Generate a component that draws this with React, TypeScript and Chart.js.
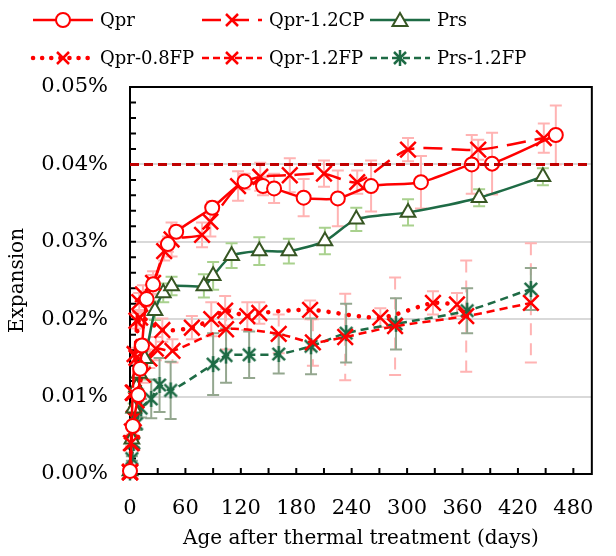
import { useEffect, useRef } from "react"
import { Chart, registerables } from "chart.js"

Chart.register(...registerables)

// expansion values are in percent (0.04 means 0.04%)
const qprDays = [0, 3, 9, 11, 13, 18, 25, 41, 50, 89, 124, 144, 156, 188, 225, 261, 315, 370, 392, 461]
const qprValues = [0.0004, 0.0062, 0.0102, 0.0136, 0.0166, 0.0226, 0.0245, 0.0297, 0.0313, 0.0344, 0.0378, 0.0372, 0.0369, 0.0357, 0.0356, 0.0372, 0.0377, 0.04, 0.0401, 0.0438]
const qprErrors = [0.0002, 0.0005, 0.0008, 0.0008, 0.0008, 0.001, 0.0012, 0.001, 0.0008, 0.0008, 0.001, 0.0012, 0.0019, 0.0024, 0.0036, 0.0033, 0.0034, 0.0038, 0.004, 0.0038]

const cpDays = [0, 1, 3, 5, 7, 10, 14, 25, 37, 45, 78, 87, 117, 141, 173, 210, 246, 301, 377, 448]
const cpValues = [0.0003, 0.004, 0.0105, 0.0155, 0.0198, 0.0222, 0.0232, 0.0247, 0.0288, 0.0303, 0.0309, 0.0326, 0.0372, 0.0384, 0.0386, 0.0388, 0.0377, 0.0419, 0.0419, 0.0434]
const cpErrors = [0.0002, 0.0004, 0.0006, 0.0008, 0.001, 0.0012, 0.0012, 0.0015, 0.0012, 0.0022, 0.0016, 0.0019, 0.0019, 0.0018, 0.0022, 0.0017, 0.0015, 0.0015, 0.0013, 0.0019]

const prsDays = [0, 2, 4, 7, 10, 16, 27, 36, 45, 80, 90, 110, 140, 172, 211, 245, 301, 378, 447]
const prsValues = [0.0004, 0.0045, 0.0085, 0.0112, 0.013, 0.0149, 0.0211, 0.0234, 0.0243, 0.0243, 0.0256, 0.0282, 0.0288, 0.0288, 0.0301, 0.0329, 0.0338, 0.0357, 0.0384]
const prsErrors = [0.0002, 0.0004, 0.0006, 0.0008, 0.0008, 0.001, 0.0012, 0.0012, 0.0012, 0.0015, 0.0018, 0.0016, 0.0018, 0.0016, 0.0017, 0.0015, 0.0017, 0.0011, 0.0011]

const fp08Days = [0, 2, 4, 7, 11, 35, 67, 88, 103, 127, 140, 195, 271, 328, 354]
const fp08Values = [0.0002, 0.0055, 0.0105, 0.015, 0.0202, 0.0186, 0.0189, 0.02, 0.0211, 0.0204, 0.0208, 0.0212, 0.0202, 0.0221, 0.0219]
const fp08Errors = [0.0002, 0.0004, 0.0006, 0.0008, 0.001, 0.0015, 0.0015, 0.0022, 0.0019, 0.0018, 0.0014, 0.0012, 0.0012, 0.0015, 0.0015]

const fp12Days = [0, 2, 4, 7, 14, 21, 28, 46, 104, 161, 198, 233, 287, 364, 434]
const fp12Values = [0.0002, 0.004, 0.0072, 0.0095, 0.0128, 0.0149, 0.0162, 0.0159, 0.0187, 0.0181, 0.017, 0.0177, 0.0191, 0.0204, 0.0221]
const fp12Errors = [0.0002, 0.0004, 0.0006, 0.0008, 0.001, 0.0012, 0.0015, 0.0015, 0.0026, 0.0025, 0.003, 0.0056, 0.0063, 0.0072, 0.0077]

const prsFpDays = [0, 2, 4, 7, 12, 23, 32, 44, 90, 104, 129, 161, 196, 234, 288, 365, 434]
const prsFpValues = [0.0002, 0.002, 0.004, 0.0065, 0.0085, 0.0097, 0.0115, 0.0108, 0.0142, 0.0153, 0.0154, 0.0155, 0.0165, 0.0182, 0.0194, 0.0211, 0.0239]
const prsFpErrors = [0.0001, 0.0003, 0.0005, 0.0008, 0.0012, 0.0025, 0.0035, 0.0037, 0.004, 0.0035, 0.003, 0.0025, 0.0036, 0.0038, 0.0033, 0.0029, 0.0027]

const limitValue = 0.04
const xTickValues = [0, 60, 120, 180, 240, 300, 360, 420, 480]
const yTickValues = [0, 0.01, 0.02, 0.03, 0.04, 0.05]

const FONT = "'DejaVu Serif', serif"
const RED = "#ff0000"
const GREEN = "#1e6b45"
const OLIVE = "#375623"

const pts = (xs: number[], ys: number[]) => xs.map((x, i) => ({ x, y: ys[i] }))

function makeAsterisk(color: string, r: number) {
  const c = document.createElement("canvas")
  c.width = c.height = r * 2 + 4
  const g = c.getContext("2d")!
  const m = r + 2
  const d = r * 0.78
  g.strokeStyle = color
  g.lineWidth = 2.5
  g.beginPath()
  g.moveTo(m - d, m - d)
  g.lineTo(m + d, m + d)
  g.moveTo(m + d, m - d)
  g.lineTo(m - d, m + d)
  g.moveTo(m, m - r)
  g.lineTo(m, m + r)
  g.stroke()
  return c
}

const framePlugin = {
  id: "frameAndErrors",
  beforeDatasetsDraw(chart: any) {
    const { ctx, chartArea: a, scales } = chart
    const x = scales.x
    const y = scales.y
    ctx.save()
    // error bars
    chart.data.datasets.forEach((ds: any) => {
      if (!ds.errors) return
      ds.data.forEach((p: any, j: number) => {
        const e = ds.errors[j]
        if (!e) return
        const px = x.getPixelForValue(p.x)
        const top = y.getPixelForValue(p.y + e)
        const bot = y.getPixelForValue(Math.max(0, p.y - e))
        ctx.strokeStyle = ds.errorColor
        ctx.lineWidth = 2
        ctx.setLineDash(ds.errorDash || [])
        ctx.beginPath()
        ctx.moveTo(px, top)
        ctx.lineTo(px, bot)
        ctx.stroke()
        ctx.setLineDash([])
        ctx.beginPath()
        ctx.moveTo(px - 6, top)
        ctx.lineTo(px + 6, top)
        ctx.moveTo(px - 6, bot)
        ctx.lineTo(px + 6, bot)
        ctx.stroke()
      })
    })
    // frame with inward minor ticks
    ctx.strokeStyle = "#000"
    ctx.lineWidth = 2
    ctx.strokeRect(a.left, a.top, a.right - a.left, a.bottom - a.top)
    ctx.beginPath()
    for (let d = 30; d < 500; d += 30) {
      const px = x.getPixelForValue(d)
      ctx.moveTo(px, a.bottom)
      ctx.lineTo(px, a.bottom - 6)
    }
    for (let v = 0.002; v < 0.0499; v += 0.002) {
      const py = y.getPixelForValue(v)
      ctx.moveTo(a.left, py)
      ctx.lineTo(a.left + 6, py)
    }
    ctx.stroke()
    ctx.restore()
  },
}

type LegendItem = { label: string; color: string; dash: string; width: number; marker: string; x: number; y: number }

const legendItems: LegendItem[] = [
  { label: "Qpr", color: RED, dash: "", width: 2.5, marker: "circle", x: 33, y: 20 },
  { label: "Qpr-1.2CP", color: RED, dash: "19 9", width: 2.5, marker: "x", x: 202, y: 20 },
  { label: "Prs", color: GREEN, dash: "", width: 2.5, marker: "triangle", x: 370, y: 20 },
  { label: "Qpr-0.8FP", color: RED, dash: "0.1 9", width: 4.5, marker: "x", x: 33, y: 58 },
  { label: "Qpr-1.2FP", color: RED, dash: "7 4", width: 2.5, marker: "x", x: 202, y: 58 },
  { label: "Prs-1.2FP", color: GREEN, dash: "7 4", width: 2.5, marker: "star", x: 370, y: 58 },
]

function LegendMarker({ kind, color, cx }: { kind: string; color: string; cx: number }) {
  if (kind === "circle") return <circle cx={cx} cy={10} r={7} fill="#fff" stroke={color} strokeWidth={2} />
  if (kind === "triangle")
    return <polygon points={`${cx},3 ${cx + 7.5},16 ${cx - 7.5},16`} fill="#fff" stroke={OLIVE} strokeWidth={2} />
  return (
    <g stroke={color} strokeWidth={2.5}>
      <line x1={cx - 6} y1={4} x2={cx + 6} y2={16} />
      <line x1={cx + 6} y1={4} x2={cx - 6} y2={16} />
      {kind === "star" && <line x1={cx} y1={2} x2={cx} y2={18} />}
    </g>
  )
}

export default function App() {
  const chartRef = useRef<HTMLCanvasElement>(null)
  const chartInstance = useRef<Chart | null>(null)

  useEffect(() => {
    if (!chartRef.current) return
    if (chartInstance.current) chartInstance.current.destroy()
    const ctx = chartRef.current.getContext("2d")
    if (!ctx) return

    const common = { showLine: true, tension: 0.25, clip: false as const, pointBorderWidth: 2.5 }

    chartInstance.current = new Chart(ctx, {
      type: "scatter",
      data: {
        datasets: [
          {
            label: "limit",
            data: [
              { x: 0, y: limitValue },
              { x: 500, y: limitValue },
            ],
            showLine: true,
            borderColor: "#c00000",
            borderWidth: 3,
            borderDash: [9, 5],
            pointRadius: 0,
          },
          {
            ...common,
            label: "Qpr",
            data: pts(qprDays, qprValues),
            borderColor: RED,
            borderWidth: 2.5,
            pointStyle: "circle",
            pointRadius: 7,
            pointBackgroundColor: "#fff",
            pointBorderColor: RED,
            pointBorderWidth: 2,
            errors: qprErrors,
            errorColor: "#ffb3b3",
          },
          {
            ...common,
            label: "Qpr-1.2CP",
            data: pts(cpDays, cpValues),
            borderColor: RED,
            borderWidth: 2.5,
            borderDash: [19, 9],
            pointStyle: "crossRot",
            pointRadius: 11,
            pointBorderColor: RED,
            errors: cpErrors,
            errorColor: "#ffb3b3",
          },
          {
            ...common,
            label: "Prs",
            data: pts(prsDays, prsValues),
            borderColor: GREEN,
            borderWidth: 2.5,
            pointStyle: "triangle",
            pointRadius: 8.5,
            pointBackgroundColor: "#fff",
            pointBorderColor: OLIVE,
            pointBorderWidth: 2,
            errors: prsErrors,
            errorColor: "#a9d18e",
          },
          {
            ...common,
            label: "Qpr-0.8FP",
            data: pts(fp08Days, fp08Values),
            borderColor: RED,
            borderWidth: 4.5,
            borderDash: [0.1, 10],
            borderCapStyle: "round",
            pointStyle: "crossRot",
            pointRadius: 11,
            pointBorderColor: RED,
            errors: fp08Errors,
            errorColor: "#ffb3b3",
          },
          {
            ...common,
            label: "Qpr-1.2FP",
            data: pts(fp12Days, fp12Values),
            borderColor: RED,
            borderWidth: 2.5,
            borderDash: [8, 5],
            pointStyle: "crossRot",
            pointRadius: 11,
            pointBorderColor: RED,
            errors: fp12Errors,
            errorColor: "#ffb3b3",
            errorDash: [12, 8],
          },
          {
            ...common,
            label: "Prs-1.2FP",
            data: pts(prsFpDays, prsFpValues),
            borderColor: GREEN,
            borderWidth: 2.5,
            borderDash: [8, 5],
            pointStyle: makeAsterisk(GREEN, 8),
            pointRadius: 8,
            errors: prsFpErrors,
            errorColor: "#94a78f",
          },
        ] as any,
      },
      options: {
        animation: false,
        responsive: false,
        events: [],
        layout: { padding: { top: 87, right: 15, left: 0, bottom: 0 } },
        plugins: { legend: { display: false }, tooltip: { enabled: false } },
        scales: {
          x: {
            type: "linear",
            min: 0,
            max: 500,
            afterBuildTicks: (s: any) => {
              s.ticks = xTickValues.map((value) => ({ value }))
            },
            afterFit: (s: any) => {
              s.height = 82
            },
            grid: { display: false, drawTicks: false },
            border: { display: false },
            ticks: {
              color: "#000",
              font: { family: FONT, size: 21 },
              padding: 22,
              maxRotation: 0,
              autoSkip: false,
              callback: (v: any) => String(v),
            },
            title: {
              display: true,
              text: "Age after thermal treatment (days)",
              color: "#000",
              font: { family: FONT, size: 20 },
              padding: { top: 0, bottom: 5 },
            },
          },
          y: {
            type: "linear",
            min: 0,
            max: 0.05,
            afterBuildTicks: (s: any) => {
              s.ticks = yTickValues.map((value) => ({ value }))
            },
            afterFit: (s: any) => {
              s.width = 130
            },
            grid: {
              drawTicks: false,
              lineWidth: 2,
              color: (c: any) => {
                const v = Math.round((c.tick?.value ?? 0) * 1000)
                return v > 0 && v < 50 ? "#d9d9d9" : "rgba(0,0,0,0)"
              },
            },
            border: { display: false },
            ticks: {
              color: "#000",
              font: { family: FONT, size: 21 },
              padding: 22,
              callback: (v: any) => Number(v).toFixed(2) + "%",
            },
            title: {
              display: true,
              text: "Expansion",
              color: "#000",
              font: { family: FONT, size: 20 },
              padding: { top: 6, bottom: 0 },
            },
          },
        },
      } as any,
      plugins: [framePlugin],
    })

    return () => {
      if (chartInstance.current) {
        chartInstance.current.destroy()
        chartInstance.current = null
      }
    }
  }, [])

  return (
    <div style={{ position: "fixed", left: 0, top: 0, width: 616, height: 556, background: "#fff", fontFamily: FONT }}>
      <canvas ref={chartRef} width={616} height={556} style={{ position: "absolute", left: 0, top: 0 }} />
      {legendItems.map((it) => (
        <div key={it.label}>
          <svg
            width={62}
            height={20}
            style={{ position: "absolute", left: it.x, top: it.y - 10, overflow: "visible" }}
          >
            <line
              x1={0}
              y1={10}
              x2={60}
              y2={10}
              stroke={it.color}
              strokeWidth={it.width}
              strokeDasharray={it.dash || undefined}
              strokeLinecap={it.dash.startsWith("0.1") ? "round" : "butt"}
            />
            <LegendMarker kind={it.marker} color={it.color} cx={30} />
          </svg>
          <div
            style={{
              position: "absolute",
              left: it.x + 67,
              top: it.y - 12,
              lineHeight: "24px",
              fontSize: 18,
              color: "#000",
              whiteSpace: "nowrap",
            }}
          >
            {it.label}
          </div>
        </div>
      ))}
    </div>
  )
}
